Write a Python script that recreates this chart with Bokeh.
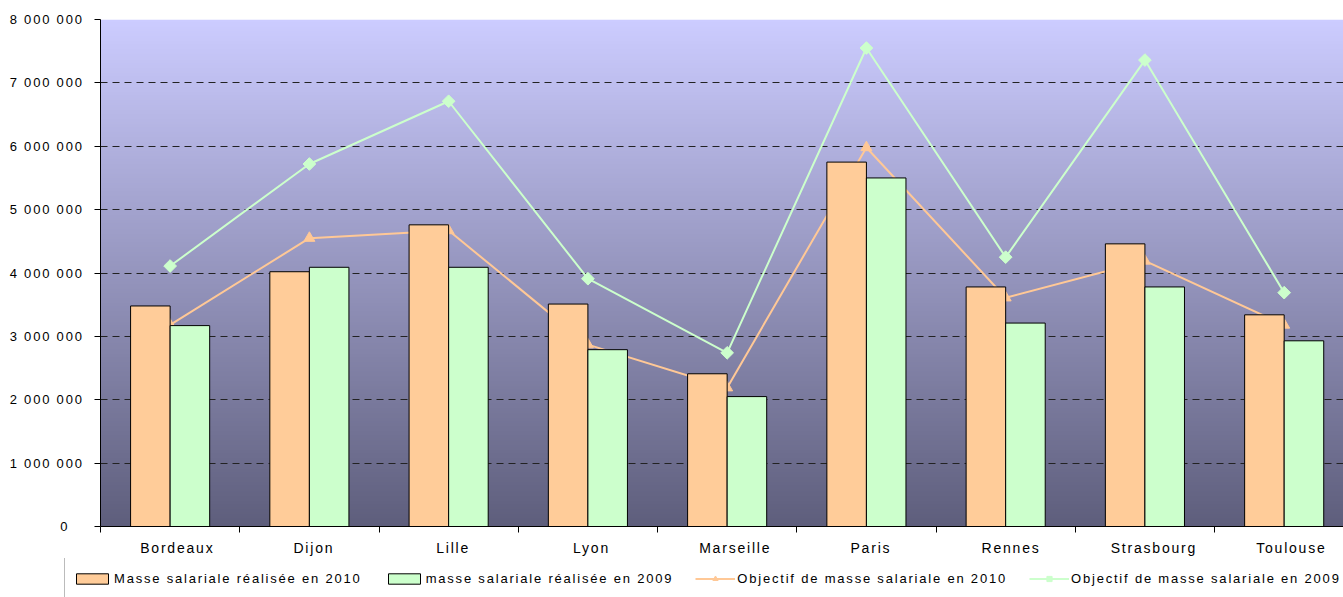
import numpy as np
from bokeh.plotting import figure
from bokeh.layouts import column
from bokeh.models import ColumnDataSource, FixedTicker, Range1d, Legend, LegendItem
from bokeh.transform import dodge
from bokeh.embed import file_html
from bokeh.resources import INLINE

# Masse salariale par ville (euros)
villes = ["Bordeaux", "Dijon", "Lille", "Lyon", "Marseille",
          "Paris", "Rennes", "Strasbourg", "Toulouse"]
realise_2010 = [3480000, 4020000, 4760000, 3510000, 2410000,
                5750000, 3780000, 4460000, 3340000]
realise_2009 = [3170000, 4090000, 4090000, 2790000, 2050000,
                5500000, 3210000, 3780000, 2930000]
objectif_2010 = [3180000, 4550000, 4670000, 2870000, 2190000,
                 5980000, 3610000, 4190000, 3180000]
objectif_2009 = [4110000, 5720000, 6710000, 3910000, 2740000,
                 7550000, 4250000, 7360000, 3690000]
y_ticks = [0, 1000000, 2000000, 3000000, 4000000,
           5000000, 6000000, 7000000, 8000000]

FONT = "Liberation Sans"
ORANGE = "#FFCC99"
VERT = "#CCFFCC"
LIGNE_ORANGE = "#FFC896"
ESPACEMENT = {"letter-spacing": "1.8px"}

n = len(villes)
centres = [i + 0.5 for i in range(n)]

src = ColumnDataSource(dict(
    x=centres, r2010=realise_2010, r2009=realise_2009,
    o2010=objectif_2010, o2009=objectif_2009,
))


def tracer_series(fig, visible=True):
    """Objective lines first, bars on top of them."""
    l10 = fig.line("x", "o2010", source=src, line_color=LIGNE_ORANGE,
                   line_width=2, visible=visible)
    m10 = fig.scatter("x", "o2010", source=src, marker="triangle", size=11,
                      fill_color=LIGNE_ORANGE, line_color=LIGNE_ORANGE,
                      visible=visible)
    l09 = fig.line("x", "o2009", source=src, line_color=VERT, line_width=2,
                   visible=visible)
    m09 = fig.scatter("x", "o2009", source=src, marker="square",
                      angle=np.pi / 4, size=9, fill_color=VERT,
                      line_color=VERT, visible=visible)
    b10 = fig.vbar(x=dodge("x", -0.142, range=fig.x_range), top="r2010",
                   width=0.284, source=src, fill_color=ORANGE,
                   line_color="black", line_width=1, visible=visible)
    b09 = fig.vbar(x=dodge("x", 0.142, range=fig.x_range), top="r2009",
                   width=0.284, source=src, fill_color=VERT,
                   line_color="black", line_width=1, visible=visible)
    return b10, b09, (l10, m10), (l09, m09)


p = figure(width=1343, height=558, output_backend="svg", toolbar_location=None,
           x_range=Range1d(0, 8.926), y_range=Range1d(0, 8000000),
           min_border_left=100, min_border_top=19, min_border_right=0,
           min_border_bottom=30)
p.frame_align = False
p.outline_line_color = None
p.background_fill_color = "white"
p.border_fill_color = "white"
p.styles = ESPACEMENT

# vertical gradient behind the plot area
rows = 300
t = np.linspace(0.0, 1.0, rows)[:, None]
bas = np.array([94, 94, 124], dtype=float)[None, :]
haut = np.array([204, 204, 255], dtype=float)[None, :]
couleurs = bas + (haut - bas) * t
img = np.empty((rows, 1), dtype=np.uint32)
vue = img.view(dtype=np.uint8).reshape((rows, 1, 4))
vue[:, 0, 0:3] = couleurs.round().astype(np.uint8)
vue[:, 0, 3] = 255
p.image_rgba(image=[img], x=0, y=0, dw=10, dh=8000000, level="image")

tracer_series(p)

# axes
p.xaxis.ticker = FixedTicker(ticks=centres, minor_ticks=list(range(n + 1)))
p.xaxis.major_label_overrides = {c: v for c, v in zip(centres, villes)}
p.xaxis.major_tick_out = 0
p.xaxis.major_tick_in = 0
p.xaxis.minor_tick_out = 6
p.xaxis.minor_tick_in = 0
p.xaxis.minor_tick_line_color = "black"
p.xaxis.major_label_standoff = 7
p.xaxis.axis_line_color = "black"
p.xaxis.major_label_text_font_size = "14px"

p.yaxis.ticker = FixedTicker(ticks=y_ticks, minor_ticks=[])
p.yaxis.major_label_overrides = {v: f"{v:,}".replace(",", " ") for v in y_ticks}
p.yaxis.major_tick_out = 6
p.yaxis.major_tick_in = 0
p.yaxis.major_tick_line_color = "black"
p.yaxis.major_label_standoff = 27
p.yaxis.axis_line_color = "black"
p.yaxis.major_label_text_font_size = "13px"

for ax in (p.xaxis[0], p.yaxis[0]):
    ax.major_label_text_font = FONT
    ax.major_label_text_color = "black"

p.xgrid.visible = False
p.ygrid.ticker = FixedTicker(ticks=y_ticks)
p.ygrid.grid_line_color = "#222222"
p.ygrid.grid_line_dash = "7 5"
p.ygrid.grid_line_width = 1

# legend strip under the chart
leg = figure(width=1343, height=39, output_backend="svg", toolbar_location=None,
             x_range=Range1d(0, 9), y_range=Range1d(0, 1),
             x_axis_location=None, y_axis_location=None,
             min_border=0, min_border_left=0, min_border_right=0,
             min_border_top=0, min_border_bottom=0)
leg.frame_align = False
leg.outline_line_color = None
leg.grid.visible = False
leg.background_fill_color = "white"
leg.border_fill_color = "white"
leg.styles = ESPACEMENT

b10, b09, o10, o09 = tracer_series(leg, visible=False)

legend = Legend(
    items=[
        LegendItem(label="Masse salariale réalisée en 2010", renderers=[b10]),
        LegendItem(label="masse salariale réalisée en 2009", renderers=[b09]),
        LegendItem(label="Objectif de masse salariale en 2010", renderers=list(o10)),
        LegendItem(label="Objectif de masse salariale en 2009", renderers=list(o09)),
    ],
    orientation="horizontal", location=(64, -3),
    glyph_width=40, glyph_height=13, label_height=28, label_standoff=2,
    spacing=22, padding=7, margin=0,
    label_text_font=FONT, label_text_font_size="13px", label_text_color="black",
    border_line_color="#777777", border_line_width=1.5,
    background_fill_color="white", background_fill_alpha=1,
)
leg.add_layout(legend, "center")

page = column(p, leg, spacing=0)
open("out.html", "w").write(file_html(page, INLINE))
